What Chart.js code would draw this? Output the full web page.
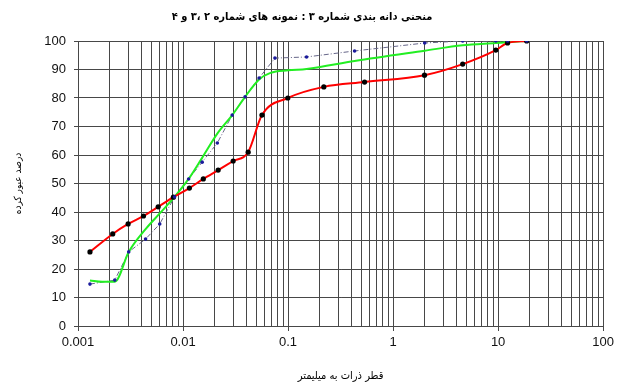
<!DOCTYPE html>
<html>
<head>
<meta charset="utf-8">
<script src="https://cdn.jsdelivr.net/npm/chart.js@4.4.1/dist/chart.umd.min.js"></script>
<style>
  html, body { margin: 0; padding: 0; background: #fff; }
  #wrap { width: 618px; height: 383px; }
</style>
</head>
<body>
<div id="wrap"><canvas id="chart" width="618" height="383"></canvas></div>
<script>
// grain sizes (mm) and percent passing
const sizesRed = [0.0013, 0.00214, 0.003, 0.0042, 0.0058, 0.0081, 0.0115, 0.0156, 0.0216, 0.030, 0.0417, 0.0564, 0.0995, 0.219, 0.535, 1.99, 4.6, 9.5, 12.3, 18.7];
const passRed = [26, 32.3, 35.8, 38.6, 41.8, 45.2, 48.4, 51.6, 54.7, 57.9, 61, 74, 80, 83.9, 85.6, 88, 91.9, 96.8, 99.3, 100];

const sizesBlue = [0.0013, 0.00224, 0.00304, 0.0044, 0.006, 0.0083, 0.0113, 0.0152, 0.0212, 0.0294, 0.039, 0.053, 0.075, 0.15, 0.43, 2.0, 4.6, 9.5, 12.3, 18.7];
const passBlue = [14.7, 16.1, 26, 30.5, 35.8, 45.3, 51.6, 57.5, 64.2, 74, 80.4, 87, 94, 94.4, 96.5, 99.3, 100, 100, 100, 100];

const sizesGreen = [0.0013, 0.0017, 0.00224, 0.00304, 0.0044, 0.006, 0.0083, 0.0113, 0.0152, 0.0212, 0.0294, 0.039, 0.053, 0.068, 0.1, 0.15, 0.43, 2.0, 4.6, 9.5, 12.3, 18.7];
const passGreen = [16, 15.5, 15.5, 26, 34, 39.5, 45.3, 51.6, 59, 67.5, 74, 80.4, 86.5, 88.8, 89.7, 90.2, 93, 96.6, 98.5, 99.3, 99.6, 100];

const yTicks = [0, 10, 20, 30, 40, 50, 60, 70, 80, 90, 100];
const xDecades = [0.001, 0.01, 0.1, 1, 10, 100];

const titleText = 'منحنی دانه بندی شماره ۳ : نمونه های شماره ۲ ،۳ و ۴';
const xTitle = 'قطر ذرات به میلیمتر';
const yTitle = 'درصد عبور کرده';

const toPoints = (xs, ys) => xs.map((x, i) => ({ x: x, y: ys[i] }));

const isDecade = (v) => Math.abs(Math.log10(v) - Math.round(Math.log10(v))) < 1e-6;

const gridColor = '#484848';
const persianFont = 'DejaVu Sans Condensed, DejaVu Sans';

new Chart(document.getElementById('chart'), {
  type: 'line',
  data: {
    datasets: [
      {
        // blue markers on top
        data: toPoints(sizesBlue, passBlue),
        showLine: false,
        pointRadius: 1.8,
        pointBackgroundColor: '#1a1a9c',
        pointBorderColor: '#1a1a9c',
        pointBorderWidth: 0,
      },
      {
        data: toPoints(sizesRed, passRed),
        borderColor: '#ff0000',
        borderWidth: 2,
        cubicInterpolationMode: 'monotone',
        pointRadius: 2.6,
        pointBackgroundColor: '#000',
        pointBorderColor: '#000',
        pointBorderWidth: 0,
      },
      {
        data: toPoints(sizesGreen, passGreen),
        borderColor: '#22ee22',
        borderWidth: 2,
        cubicInterpolationMode: 'monotone',
        pointRadius: 0,
      },
      {
        data: toPoints(sizesBlue, passBlue),
        borderColor: '#666688',
        borderWidth: 1,
        borderDash: [5, 2, 1, 2],
        tension: 0,
        pointRadius: 0,
      },
    ],
  },
  options: {
    responsive: false,
    animation: false,
    layout: { padding: { left: 0, right: 14, top: 0, bottom: 0 } },
    plugins: {
      legend: { display: false },
      tooltip: { enabled: false },
      title: {
        display: true,
        text: titleText,
        color: '#000',
        font: { family: persianFont, size: 11, weight: 'bold', lineHeight: 1.2 },
        padding: { top: 11, bottom: 16.8 },
      },
    },
    scales: {
      x: {
        type: 'logarithmic',
        min: 0.001,
        max: 100,
        afterBuildTicks: (scale) => {
          const ticks = [];
          for (let e = -3; e <= 1; e++) {
            for (let m = 1; m <= 9; m++) ticks.push({ value: m * Math.pow(10, e) });
          }
          ticks.push({ value: 100 });
          scale.ticks = ticks;
        },
        afterFit: (scale) => { scale.height = 57; },
        grid: {
          color: gridColor,
          lineWidth: 1,
          tickLength: 5,
          tickColor: (ctx) => (ctx.tick && isDecade(ctx.tick.value) ? gridColor : 'rgba(0,0,0,0)'),
        },
        border: { color: gridColor, width: 1 },
        ticks: {
          autoSkip: false,
          maxRotation: 0,
          color: '#111',
          padding: 4,
          font: { family: 'Liberation Sans', size: 13 },
          callback: (v) => (isDecade(v) ? String(xDecades.find((d) => Math.abs(d - v) / d < 1e-6)) : ''),
        },
        title: {
          display: true,
          text: xTitle,
          color: '#000',
          font: { family: persianFont, size: 11 },
          padding: { top: 0, bottom: 0 },
        },
      },
      y: {
        min: 0,
        max: 100,
        afterBuildTicks: (scale) => { scale.ticks = yTicks.map((v) => ({ value: v })); },
        afterFit: (scale) => { scale.width = 78; },
        grid: { color: gridColor, lineWidth: 1, tickLength: 4, tickColor: gridColor },
        border: { color: gridColor, width: 1 },
        ticks: {
          color: '#111',
          padding: 8,
          font: { family: 'Liberation Sans', size: 13 },
        },
        title: {
          display: true,
          text: yTitle,
          color: '#000',
          font: { family: persianFont, size: 10 },
          padding: { top: 12, bottom: 10 },
        },
      },
    },
  },
});
</script>
</body>
</html>
